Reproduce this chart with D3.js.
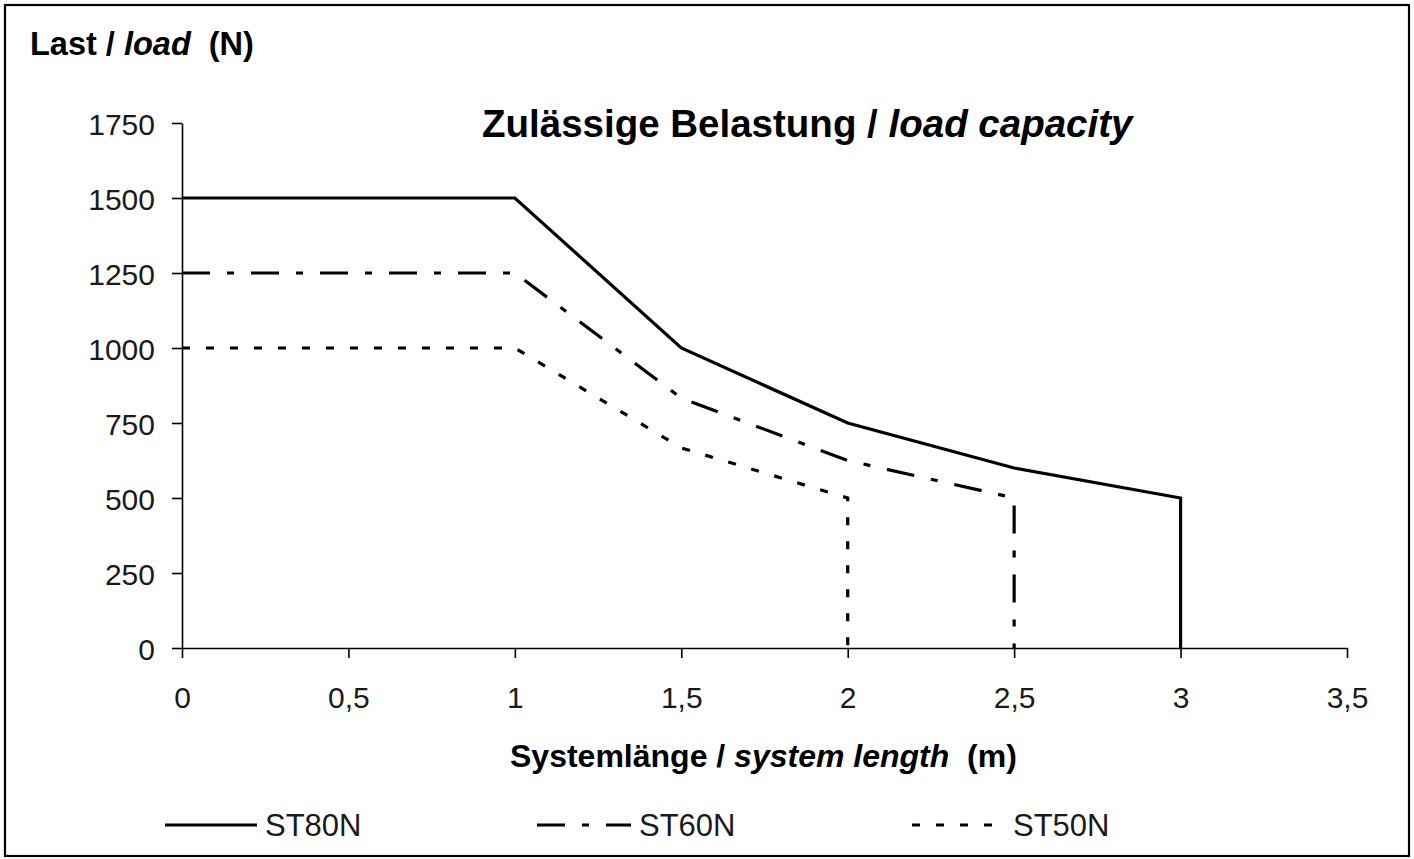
<!DOCTYPE html>
<html>
<head>
<meta charset="utf-8">
<script src="https://cdn.jsdelivr.net/npm/d3@7"></script>
<style>
  html, body { margin: 0; padding: 0; background: #fff; }
  svg { display: block; font-family: "Liberation Sans", Arial, sans-serif; }
  text { white-space: pre; }
</style>
</head>
<body>
<svg id="chart" width="1414" height="859"></svg>
<script>
// ---- data ----
const seriesNames = ["ST80N", "ST60N", "ST50N"];
const st80nX = [0, 1, 1.5, 2, 2.5, 3, 3];
const st80nY = [1500, 1500, 1000, 750, 600, 500, 0];
const st60nX = [0, 1, 1.5, 2, 2.5, 2.5];
const st60nY = [1250, 1250, 833, 625, 500, 0];
const st50nX = [0, 1, 1.5, 2, 2];
const st50nY = [1000, 1000, 667, 500, 0];
const xTicks = [0, 0.5, 1, 1.5, 2, 2.5, 3, 3.5];
const yTicks = [0, 250, 500, 750, 1000, 1250, 1500, 1750];

// ---- styles ----
const dashes = ["none", "28,17,7,17", "8,16"];
const svg = d3.select("#chart");
const W = 1414, H = 859;

// outer border
svg.append("rect").attr("x", 5).attr("y", 5).attr("width", W - 10).attr("height", H - 8)
  .attr("fill", "#fff").attr("stroke", "#000").attr("stroke-width", 2.2);

const x = d3.scaleLinear().domain([0, 3.5]).range([182, 1347]);
const y = d3.scaleLinear().domain([0, 1750]).range([648, 123]);

// axes
const fmt = d => String(d).replace(".", ",");
const gx = svg.append("g").attr("transform", `translate(0,${y(0)})`)
  .call(d3.axisBottom(x).tickValues(xTicks).tickFormat(fmt).tickSize(10).tickSizeOuter(0).tickPadding(0));
const gy = svg.append("g").attr("transform", `translate(${x(0)},0)`)
  .call(d3.axisLeft(y).tickValues(yTicks).tickFormat(d => String(d)).tickSize(10).tickSizeOuter(0).tickPadding(0));
[gx, gy].forEach(g => {
  g.select(".domain").attr("stroke", "#000").attr("stroke-width", 1.6);
  g.selectAll(".tick line").attr("stroke", "#000").attr("stroke-width", 1.6);
  g.selectAll(".tick text").attr("fill", "#1a1a1a").attr("font-size", 30)
    .attr("font-family", '"Liberation Sans", Arial, sans-serif');
});
gx.selectAll(".tick text").attr("dy", null).attr("y", 60);
gy.selectAll(".tick text").attr("dy", null).attr("x", -27).attr("y", 11);

// lines
const seriesData = [
  d3.zip(st80nX, st80nY),
  d3.zip(st60nX, st60nY),
  d3.zip(st50nX, st50nY)
];
const line = d3.line().x(d => x(d[0])).y(d => y(d[1]));
svg.append("g").selectAll("path").data(seriesData).join("path")
  .attr("d", line).attr("fill", "none").attr("stroke", "#000")
  .attr("stroke-width", 3.2).attr("stroke-linejoin", "miter")
  .attr("stroke-dasharray", (d, i) => dashes[i]);

// titles
function richText(xp, yp, size, parts, anchor) {
  const t = svg.append("text").attr("x", xp).attr("y", yp).attr("font-size", size)
    .attr("font-weight", "bold").attr("fill", "#000").attr("text-anchor", anchor || "start");
  parts.forEach(p => t.append("tspan").text(p[0]).attr("font-style", p[1] ? "italic" : "normal"));
  return t;
}
richText(482, 137, 38.5, [["Zulässige Belastung / ", false], ["load capacity", true]]);
richText(30, 55, 32.5, [["Last / ", false], ["load", true], ["  (N)", false]]);
richText(510, 767, 32, [["Systemlänge / ", false], ["system length", true], ["  (m)", false]]);

// legend
const legX = [165, 537, 912];
const legLen = [92, 94, 80];
const legend = svg.append("g").selectAll("g").data(seriesNames).join("g");
legend.append("line")
  .attr("x1", (d, i) => legX[i]).attr("x2", (d, i) => legX[i] + legLen[i])
  .attr("y1", 825).attr("y2", 825).attr("stroke", "#000").attr("stroke-width", 3.2)
  .attr("stroke-dasharray", (d, i) => dashes[i]);
legend.append("text")
  .attr("x", (d, i) => legX[i] + legLen[i] + (i === 2 ? 21 : 8)).attr("y", 836)
  .attr("font-size", 31).attr("fill", "#1a1a1a").text(d => d);
</script>
</body>
</html>
